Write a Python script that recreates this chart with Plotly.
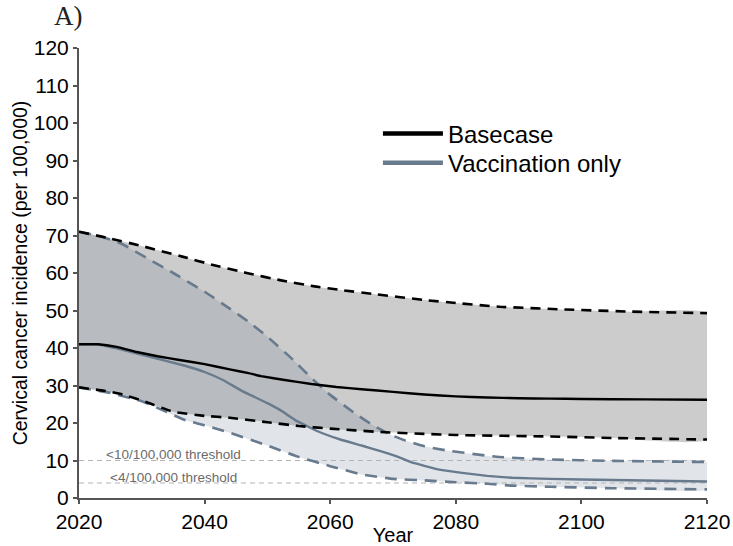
import plotly.graph_objects as go

# ---------------- data ----------------
base_mean_years = [2020, 2023, 2026, 2029, 2032.5, 2036, 2040, 2044, 2047, 2049, 2053, 2057,
                   2061, 2065, 2070, 2075, 2080, 2085, 2090, 2095, 2100, 2110, 2120]
base_mean = [41.0, 41.0, 40.3, 39.0, 37.8, 36.8, 35.7, 34.3, 33.3, 32.5, 31.4, 30.4,
             29.6, 29.0, 28.3, 27.6, 27.1, 26.8, 26.6, 26.5, 26.4, 26.3, 26.2]

base_upper_years = [2020, 2025, 2030, 2036.6, 2041, 2046.7, 2052, 2057.3, 2062, 2067.4, 2075,
                    2080, 2087, 2097, 2108, 2120]
base_upper = [71.0, 69.2, 67.2, 64.3, 62.3, 60.0, 58.1, 56.5, 55.4, 54.3, 52.8,
              52.0, 51.0, 50.3, 49.7, 49.3]

base_lower_years = [2020, 2024, 2027, 2031, 2035, 2040, 2044, 2050, 2055, 2060, 2068, 2075,
                    2080, 2095, 2105, 2120]
base_lower = [29.5, 28.6, 27.6, 25.4, 23.0, 21.9, 21.4, 20.2, 19.2, 18.5, 17.6, 17.1,
              16.8, 16.4, 16.0, 15.6]

vacc_mean_years = [2020, 2023, 2026, 2031, 2037, 2040, 2043, 2046, 2050, 2052, 2054.7, 2058,
                   2061.6, 2065, 2068, 2070.6, 2073, 2077, 2081, 2085, 2089, 2095, 2105, 2120]
vacc_mean = [41.0, 41.0, 39.9, 37.8, 35.2, 33.6, 31.4, 28.5, 25.3, 23.5, 20.5, 17.8,
             15.6, 14.0, 12.5, 11.1, 9.5, 7.7, 6.7, 5.9, 5.4, 5.1, 4.8, 4.4]

vacc_upper_years = [2020, 2024, 2027, 2031, 2035, 2040, 2044, 2047, 2050, 2054, 2057, 2060,
                    2064, 2067, 2070, 2072, 2075, 2078.5, 2086.5, 2094.5, 2105, 2120]
vacc_upper = [71.0, 69.5, 67.6, 63.8, 60.0, 55.0, 50.5, 47.0, 43.0, 37.0, 32.0, 27.5,
              22.5, 19.2, 16.6, 15.3, 13.8, 12.7, 11.0, 10.3, 9.9, 9.6]

vacc_lower_years = [2020, 2025, 2030, 2034, 2037, 2040, 2044, 2050, 2054.7, 2060, 2065, 2070,
                    2075, 2080, 2085, 2089, 2095, 2105, 2120]
vacc_lower = [29.5, 28.0, 25.8, 22.9, 20.7, 19.4, 17.4, 14.0, 11.1, 8.5, 6.3, 5.1,
              4.7, 4.2, 3.8, 3.3, 3.0, 2.6, 2.3]

threshold_values = [10, 4]
threshold_labels = ["&lt;10/100,000 threshold", "&lt;4/100,000 threshold"]
x_range = [2020, 2120]
x_ticks = [2020, 2040, 2060, 2080, 2100, 2120]
y_ticks = list(range(0, 121, 10))

# ---------------- styling ----------------
BLACK = "#000000"
SLATE = "#687a8d"
BASE_FILL = "#cccccc"
VACC_FILL = "rgba(104,122,141,0.2)"
FONT = "Liberation Sans, Arial, Helvetica, sans-serif"

fig = go.Figure()

# bands
fig.add_trace(go.Scatter(
    x=base_upper_years + base_lower_years[::-1],
    y=base_upper + base_lower[::-1],
    fill="toself", fillcolor=BASE_FILL, line=dict(width=0, shape="spline", smoothing=0.4),
    mode="lines", showlegend=False, hoverinfo="skip"))
fig.add_trace(go.Scatter(
    x=vacc_upper_years + vacc_lower_years[::-1],
    y=vacc_upper + vacc_lower[::-1],
    fill="toself", fillcolor=VACC_FILL, line=dict(width=0, shape="spline", smoothing=0.4),
    mode="lines", showlegend=False, hoverinfo="skip"))

# thresholds
for v in threshold_values:
    fig.add_trace(go.Scatter(
        x=x_range, y=[v, v], mode="lines",
        line=dict(color="#b3b3b3", width=1.2, dash="5px,4px"),
        showlegend=False, hoverinfo="skip"))

# vaccination lines
for yy, xx in [(vacc_upper, vacc_upper_years), (vacc_lower, vacc_lower_years)]:
    fig.add_trace(go.Scatter(
        x=xx, y=yy, mode="lines",
        line=dict(color=SLATE, width=2.6, dash="12px,8px", shape="spline", smoothing=0.4),
        showlegend=False))
fig.add_trace(go.Scatter(
    x=vacc_mean_years, y=vacc_mean, mode="lines",
    line=dict(color=SLATE, width=2.4, shape="spline", smoothing=0.25),
    showlegend=False))

# basecase lines
for yy, xx in [(base_upper, base_upper_years), (base_lower, base_lower_years)]:
    fig.add_trace(go.Scatter(
        x=xx, y=yy, mode="lines",
        line=dict(color=BLACK, width=2.6, dash="10px,7px", shape="spline", smoothing=0.4),
        showlegend=False))
fig.add_trace(go.Scatter(
    x=base_mean_years, y=base_mean, mode="lines",
    line=dict(color=BLACK, width=2.4, shape="spline", smoothing=0.25),
    showlegend=False))

# legend entries (each in its own legend box for exact row spacing)
fig.add_trace(go.Scatter(x=[None], y=[None], mode="lines", name="Basecase",
                         line=dict(color=BLACK, width=4.5), legend="legend"))
fig.add_trace(go.Scatter(x=[None], y=[None], mode="lines", name="Vaccination only",
                         line=dict(color=SLATE, width=4.5), legend="legend2"))

# threshold labels
for v, lab in zip(threshold_values, threshold_labels):
    fig.add_annotation(x=2035, y=v, text=lab, showarrow=False, xanchor="center",
                       yanchor="bottom", yshift=-3.5,
                       font=dict(family=FONT, size=13.5, color="#6b6b6b"))

# panel label
fig.add_annotation(x=-0.043, y=1.07, xref="paper", yref="paper", text="A)",
                   showarrow=False, xanchor="left", yanchor="middle",
                   font=dict(family="Liberation Serif, Times New Roman, serif", size=27, color="#222222"))

axis_common = dict(showline=True, linecolor="#555555", linewidth=2, ticks="outside",
                   ticklen=4, tickwidth=1.5, tickcolor="#555555", showgrid=False,
                   zeroline=False, automargin=False,
                   tickfont=dict(family=FONT, size=21, color="#000000"))

legend_common = dict(xanchor="left", yanchor="top", bgcolor="rgba(0,0,0,0)",
                     font=dict(family=FONT, size=24), itemwidth=60)

fig.update_layout(
    width=733, height=546,
    margin=dict(l=79, r=26, t=48, b=48),
    plot_bgcolor="white", paper_bgcolor="white",
    font=dict(family=FONT, color="#000000"),
    xaxis=dict(range=x_range, tickvals=x_ticks,
               title=dict(text="Year", font=dict(family=FONT, size=20), standoff=1),
               **axis_common),
    yaxis=dict(range=[0, 120], tickvals=y_ticks,
               title=dict(text="Cervical cancer incidence (per 100,000)",
                          font=dict(family=FONT, size=19.5), standoff=1),
               **axis_common),
    legend=dict(x=0.476, y=0.859, **legend_common),
    legend2=dict(x=0.476, y=0.794, **legend_common),
)

# remove the default 8px page margin so the 733x546 figure fills the window
fig.write_html("out.html",
               config={"displayModeBar": False},
               post_script="document.body.style.margin='0px';document.body.style.overflow='hidden';")
